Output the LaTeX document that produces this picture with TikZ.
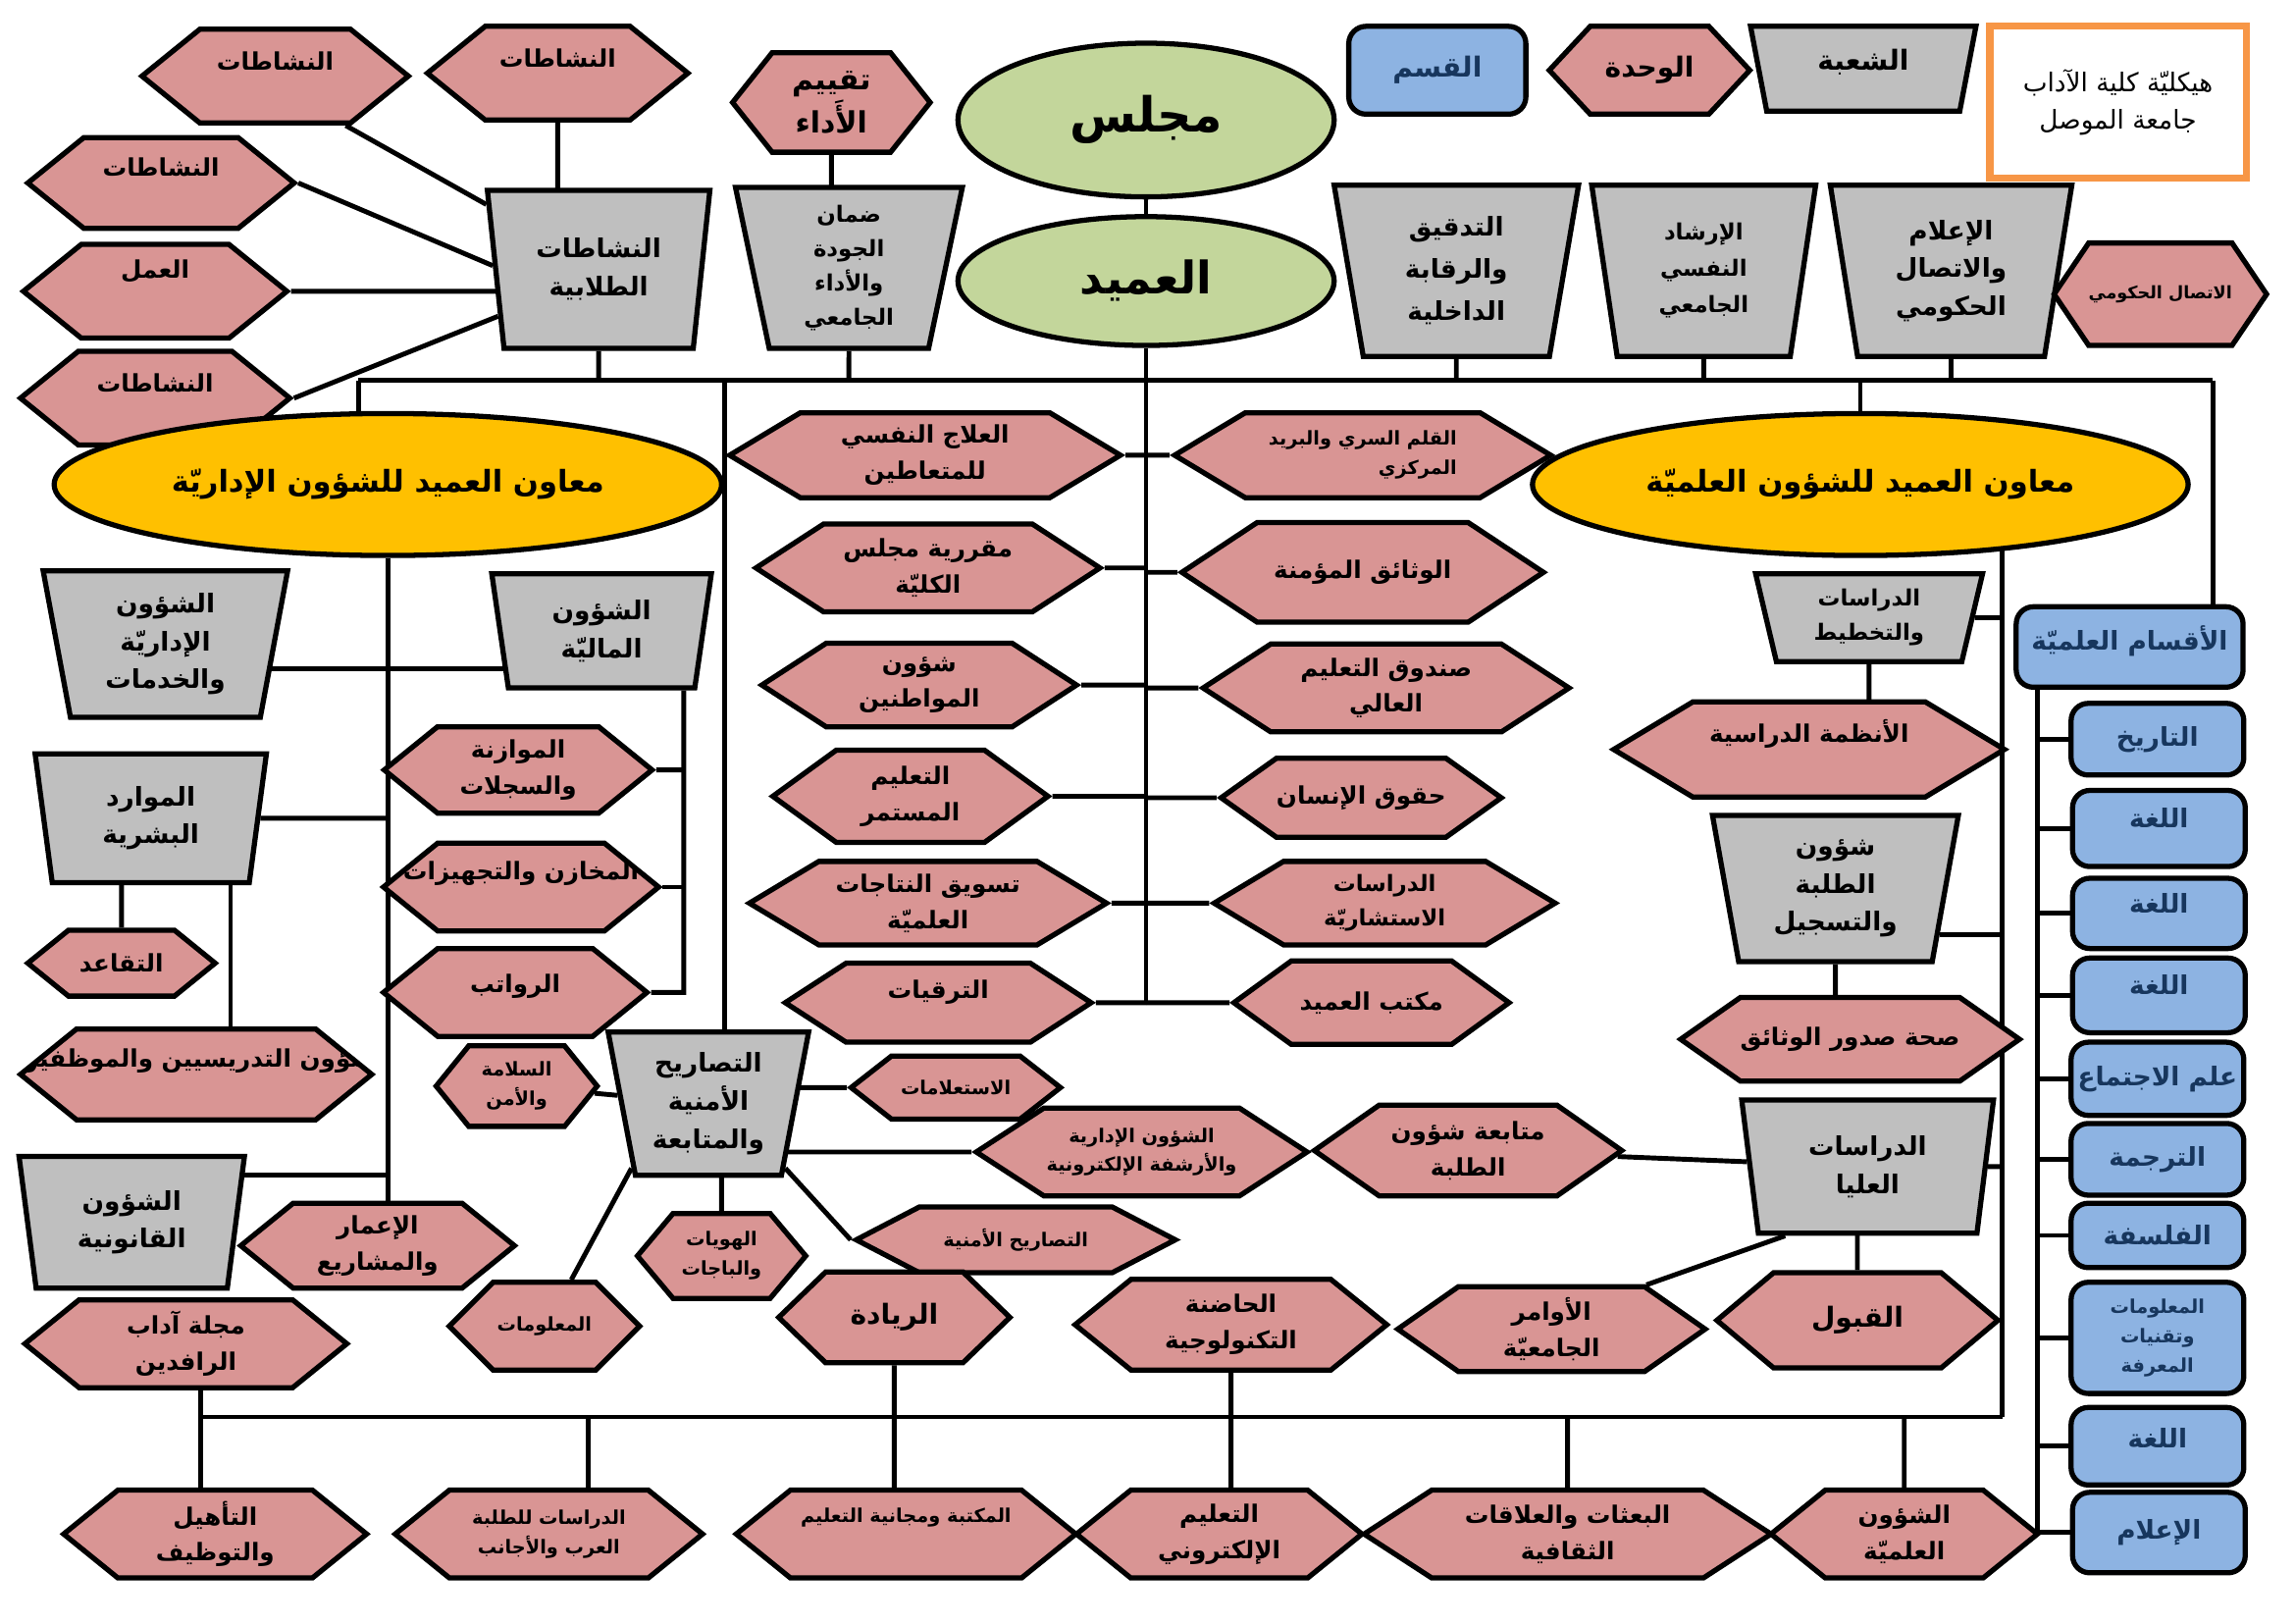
\documentclass[tikz,border=0pt]{standalone}
\usepackage{fontspec}
\usepackage{xcolor}
\usepackage{tikz}
\usetikzlibrary{positioning,calc,shapes.geometric,shapes.symbols,backgrounds}
\newfontfamily\arabicfont[Script=Arabic]{DejaVu Sans}
\TeXXeTstate=1
\newcommand{\rl}[1]{\beginR #1\endR}
\newcommand{\arb}{\arabicfont\bfseries}
\newcommand{\px}{0.014917cm}
\definecolor{hexpink}{HTML}{D99594}
\definecolor{trapgray}{HTML}{BFBFBF}
\definecolor{deptblue}{HTML}{8DB3E2}
\definecolor{deptink}{HTML}{17365D}
\definecolor{headgreen}{HTML}{C3D69B}
\definecolor{vicegold}{HTML}{FFC000}
\definecolor{frameorange}{HTML}{F79646}

\begin{document}
\begin{tikzpicture}[
        x=\px, y=-\px,
        % pink units: six-sided boxes
        hexnode/.style={
            signal, signal to=west and east, signal pointer angle=78,
            draw=black, line width=1.5pt, fill=hexpink,
            inner sep=0pt, align=center,
            font=\arb\fontsize{7}{10.5}\selectfont
        },
        % grey sections: wide top, narrow bottom
        trapnode/.style={
            trapezium, trapezium stretches body, shape border rotate=180,
            trapezium left angle=75, trapezium right angle=75,
            draw=black, line width=1.5pt, fill=trapgray,
            inner sep=0pt, align=center,
            font=\arb\fontsize{7.5}{11}\selectfont
        },
        % blue departments
        deptnode/.style={
            rectangle, rounded corners=5pt,
            draw=black, line width=1.5pt, fill=deptblue, text=deptink,
            inner sep=0pt, align=center,
            font=\arb\fontsize{7.5}{11}\selectfont
        },
        % green council / dean
        headnode/.style={
            ellipse, draw=black, line width=1.5pt, fill=headgreen,
            inner sep=0pt, font=\arb\fontsize{14}{17}\selectfont
        },
        % yellow assistants
        vicenode/.style={
            ellipse, draw=black, line width=1.5pt, fill=vicegold,
            inner sep=0pt, font=\arb\fontsize{8.7}{11}\selectfont
        },
        smalltxt/.style={font=\arb\fontsize{5.5}{8.5}\selectfont},
        upper/.style={text depth=#1},
        % text cut by the box outline
        cuttext/.style={path picture={
            \node[shape=rectangle, draw=none, fill=none, inner sep=0pt,
                  minimum size=0pt, text=black, font=\arb\fontsize{7}{10}\selectfont]
                  at ([yshift=4pt]path picture bounding box.center) {#1};}},
        sz/.style 2 args={minimum width=#1*\px, minimum height=#2*\px},
        link/.style={draw=black, line width=1.4pt}
    ]
    \useasboundingbox (0,0) rectangle (1568,1109);

    % --- LEGEND ---
    \node[deptnode, sz={121}{60}, font=\arb\fontsize{8}{11}\selectfont] (lgQ) at (982,48) {\rl{القسم}};
    \node[hexnode, sz={137}{60}, signal pointer angle=94, font=\arb\fontsize{8}{11}\selectfont] (lgW) at (1127,48) {\rl{الوحدة}};
    \node[trapnode, sz={154}{58}, trapezium left angle=67, trapezium right angle=67, font=\arb\fontsize{8}{11}\selectfont, upper=5pt] (lgS) at (1273,47) {\rl{الشعبة}};
    \node[draw=frameorange, line width=2pt, sz={175}{104}, align=center,
          font=\arabicfont\fontsize{7.5}{11}\selectfont] (ttl) at (1447,70) {\rl{هيكليّة كلية الآداب}\\\rl{جامعة الموصل}};

    % --- COUNCIL AND DEAN ---
    \node[headnode, sz={257}{105}] (council) at (783,82) {\rl{مجلس}};
    \node[headnode, sz={257}{88}, font=\arb\fontsize{13}{16}\selectfont] (dean) at (783,192) {\rl{العميد}};

    % --- TOP ROW ---
    \node[hexnode, sz={182}{64}, upper=9pt] (act1) at (188,52) {\rl{النشاطات}};
    \node[hexnode, sz={178}{64}, upper=9pt] (act2) at (381,50) {\rl{النشاطات}};
    \node[hexnode, sz={182}{62}, upper=9pt] (act3) at (110,125) {\rl{النشاطات}};
    \node[hexnode, sz={180}{64}, upper=13pt] (work) at (106,199) {\rl{العمل}};
    \node[hexnode, sz={184}{64}, upper=9pt] (act4) at (106,272) {\rl{النشاطات}};
    \node[trapnode, sz={152}{108}] (stud) at (409,184) {\rl{النشاطات}\\\rl{الطلابية}};
    \node[hexnode, sz={135}{68}, signal pointer angle=103, font=\arb\fontsize{8.5}{11}\selectfont] (eval) at (568,70) {\rl{تقييم}\\\rl{الأَداء}};
    \node[trapnode, sz={155}{110}, font=\arb\fontsize{6.5}{10}\selectfont] (qual) at (580,183) {\rl{ضمان}\\\rl{الجودة}\\\rl{والأداء}\\\rl{الجامعي}};
    \node[trapnode, sz={167}{117}, font=\arb\fontsize{7.5}{12.3}\selectfont] (audit) at (995,185) {\rl{التدقيق}\\\rl{والرقابة}\\\rl{الداخلية}};
    \node[trapnode, sz={153}{117}, font=\arb\fontsize{6.5}{10.5}\selectfont] (guid) at (1164,185) {\rl{الإرشاد}\\\rl{النفسي}\\\rl{الجامعي}};
    \node[trapnode, sz={165}{117}] (media) at (1333,185) {\rl{الإعلام}\\\rl{والاتصال}\\\rl{الحكومي}};
    \node[hexnode, sz={145}{70}, signal pointer angle=112, font=\arb\fontsize{5}{8}\selectfont] (govc) at (1476,201) {\rl{الاتصال الحكومي}};

    % --- ASSISTANT DEANS ---
    \node[vicenode, sz={456}{97}] (leftE) at (265,331) {\rl{معاون العميد للشؤون الإداريّة}};
    \node[vicenode, sz={448}{97}] (rightE) at (1271,331) {\rl{معاون العميد للشؤون العلميّة}};

    % --- CENTRE COLUMNS ---
    \node[hexnode, sz={267}{58}, signal pointer angle=62] (psy) at (632,311) {\rl{العلاج النفسي}\\\rl{للمتعاطين}};
    \node[hexnode, sz={235}{60}, signal pointer angle=66] (cms) at (634,388) {\rl{مقررية مجلس}\\\rl{الكليّة}};
    \node[hexnode, sz={215}{57}, signal pointer angle=66] (cit) at (628,468) {\rl{شؤون}\\\rl{المواطنين}};
    \node[hexnode, sz={188}{63}, signal pointer angle=72] (cont) at (622,544) {\rl{التعليم}\\\rl{المستمر}};
    \node[hexnode, sz={244}{57}, signal pointer angle=62] (mkt) at (634,617) {\rl{تسويق النتاجات}\\\rl{العلميّة}};
    \node[hexnode, sz={209}{54}, signal pointer angle=66, upper=8pt] (promo) at (641,685) {\rl{الترقيات}};
    \node[hexnode, sz={257}{58}, signal pointer angle=62, smalltxt, align=right] (qalam) at (931,311) {\rl{القلم السري والبريد}\\\rl{المركزي}};
    \node[hexnode, sz={247}{68}, signal pointer angle=67] (docs) at (931,391) {\rl{الوثائق المؤمنة}};
    \node[hexnode, sz={250}{60}, signal pointer angle=66] (fund) at (947,470) {\rl{صندوق التعليم}\\\rl{العالي}};
    \node[hexnode, sz={166}{54}, signal pointer angle=71] (hum) at (930,545) {\rl{حقوق الإنسان}};
    \node[hexnode, sz={233}{57}, signal pointer angle=62, font=\arb\fontsize{6.5}{10}\selectfont] (cons) at (946,617) {\rl{الدراسات}\\\rl{الاستشاريّة}};
    \node[hexnode, sz={188}{57}, signal pointer angle=72] (office) at (937,685) {\rl{مكتب العميد}};

    % --- ADMINISTRATIVE SIDE ---
    \node[trapnode, sz={167}{100}] (admin) at (113,440) {\rl{الشؤون}\\\rl{الإداريّة}\\\rl{والخدمات}};
    \node[trapnode, sz={150}{78}] (fin) at (411,431) {\rl{الشؤون}\\\rl{الماليّة}};
    \node[trapnode, sz={158}{88}] (hr) at (103,559) {\rl{الموارد}\\\rl{البشرية}};
    \node[hexnode, sz={183}{59}] (budget) at (354,526) {\rl{الموازنة}\\\rl{والسجلات}};
    \node[hexnode, sz={188}{60}, cuttext={\beginR المخازن والتجهيزات\endR}] (stores) at (356,606) {};
    \node[hexnode, sz={180}{60}, upper=5pt] (salaries) at (352,678) {\rl{الرواتب}};
    \node[hexnode, sz={128}{45}] (retire) at (83,658) {\rl{التقاعد}};
    \node[hexnode, sz={240}{62}, cuttext={\beginR شؤون التدريسيين والموظفين\endR}] (staff) at (134,734) {};
    \node[trapnode, sz={154}{90}] (legal) at (90,835) {\rl{الشؤون}\\\rl{القانونية}};
    \node[hexnode, sz={187}{58}] (constr) at (258,851) {\rl{الإعمار}\\\rl{والمشاريع}};
    \node[hexnode, sz={220}{60}] (journal) at (127,918) {\rl{مجلة آداب}\\\rl{الرافدين}};
    \node[hexnode, sz={110}{55}, signal pointer angle=102, smalltxt] (safety) at (353,742) {\rl{السلامة}\\\rl{والأمن}};
    \node[trapnode, sz={137}{98}] (sec) at (484,754) {\rl{التصاريح}\\\rl{الأمنية}\\\rl{والمتابعة}};
    \node[hexnode, sz={143}{43}, signal pointer angle=76, smalltxt] (inq) at (653,743) {\rl{الاستعلامات}};
    \node[hexnode, sz={226}{60}, signal pointer angle=66, smalltxt] (earch) at (780,787) {\rl{الشؤون الإدارية}\\\rl{والأرشفة الإلكترونية}};
    \node[hexnode, sz={218}{45}, signal pointer angle=55, smalltxt] (secp) at (694,847) {\rl{التصاريح الأمنية}};
    \node[hexnode, sz={115}{58}, signal pointer angle=100, smalltxt] (ids) at (493,858) {\rl{الهويات}\\\rl{والباجات}};
    \node[hexnode, sz={130}{60}, signal pointer angle=90, smalltxt] (info) at (372,906) {\rl{المعلومات}};
    \node[hexnode, sz={158}{62}, signal pointer angle=88, font=\arb\fontsize{8}{11}\selectfont] (riyada) at (611,900) {\rl{الريادة}};
    \node[hexnode, sz={213}{62}] (incub) at (841,905) {\rl{الحاضنة}\\\rl{التكنولوجية}};

    % --- SCIENTIFIC SIDE ---
    \node[hexnode, sz={210}{62}, signal pointer angle=70] (follow) at (1003,786) {\rl{متابعة شؤون}\\\rl{الطلبة}};
    \node[hexnode, sz={210}{58}, signal pointer angle=70] (orders) at (1060,908) {\rl{الأوامر}\\\rl{الجامعيّة}};
    \node[hexnode, sz={192}{65}, signal pointer angle=80, font=\arb\fontsize{8}{11}\selectfont] (accept) at (1269,902) {\rl{القبول}};
    \node[trapnode, sz={172}{91}] (grad) at (1276,797) {\rl{الدراسات}\\\rl{العليا}};
    \node[trapnode, sz={155}{60}, trapezium left angle=70, trapezium right angle=70, font=\arb\fontsize{6.5}{10}\selectfont] (plan) at (1277,422) {\rl{الدراسات}\\\rl{والتخطيط}};
    \node[hexnode, sz={267}{65}, signal pointer angle=62, upper=11pt] (sys) at (1236,512) {\rl{الأنظمة الدراسية}};
    \node[trapnode, sz={168}{100}] (reg) at (1254,607) {\rl{شؤون}\\\rl{الطلبة}\\\rl{والتسجيل}};
    \node[hexnode, sz={222}{57}, signal pointer angle=70] (doc) at (1264,710) {\rl{صحة صدور الوثائق}};

    % --- BOTTOM ROW ---
    \node[hexnode, sz={207}{60}] (rehab) at (147,1048) {\rl{التأهيل}\\\rl{والتوظيف}};
    \node[hexnode, sz={210}{60}, smalltxt] (foreign) at (375,1048) {\rl{الدراسات للطلبة}\\\rl{العرب والأجانب}};
    \node[hexnode, sz={232}{60}, smalltxt, upper=11pt] (library) at (619,1048) {\rl{المكتبة ومجانية التعليم}};
    \node[hexnode, sz={195}{60}] (elearn) at (833,1048) {\rl{التعليم}\\\rl{الإلكتروني}};
    \node[hexnode, sz={278}{60}, signal pointer angle=66] (mission) at (1071,1048) {\rl{البعثات والعلاقات}\\\rl{الثقافية}};
    \node[hexnode, sz={182}{60}] (sciaff) at (1301,1048) {\rl{الشؤون}\\\rl{العلميّة}};

    % --- DEPARTMENTS ---
    \node[deptnode, sz={155}{55}, upper=5pt] (depts) at (1455,442) {\rl{الأقسام العلميّة}};
    \node[deptnode, sz={118}{49}] (hist) at (1474,505) {\rl{التاريخ}};
    \node[deptnode, sz={118}{52}, upper=6pt] (lang1) at (1475,566) {\rl{اللغة}};
    \node[deptnode, sz={118}{48}, upper=6pt] (lang2) at (1475,624) {\rl{اللغة}};
    \node[deptnode, sz={118}{51}, upper=6pt] (lang3) at (1475,680) {\rl{اللغة}};
    \node[deptnode, sz={118}{50}] (socio) at (1474,737) {\rl{علم الاجتماع}};
    \node[deptnode, sz={118}{49}] (trans) at (1474,792) {\rl{الترجمة}};
    \node[deptnode, sz={118}{44}] (philo) at (1474,844) {\rl{الفلسفة}};
    \node[deptnode, sz={118}{76}, smalltxt] (infot) at (1474,914) {\rl{المعلومات}\\\rl{وتقنيات}\\\rl{المعرفة}};
    \node[deptnode, sz={118}{53}, upper=5pt] (lang4) at (1474,988) {\rl{اللغة}};
    \node[deptnode, sz={118}{55}] (mass) at (1475,1047) {\rl{الإعلام}};

    % --- CONNECTORS ---
    \begin{scope}[on background layer]
        \coordinate (busL) at (245,260);
        \coordinate (busR) at (1512,260);
        \coordinate (vl) at (495,260);
        \coordinate (cv) at (783,685);
        \coordinate (rv) at (1368,968);
        \coordinate (bbL) at (137,968);
        \coordinate (bv) at (1392,1048);
        \coordinate (lh1) at (265,457);
        \coordinate (lh3) at (265,803);

        % top bus
        \draw[link] (busL) -- (busR);
        \draw[link] (busL) -- (busL |- leftE);
        \draw[link] (busR) -- (busR |- depts);
        \foreach \n in {stud,qual,audit,guid,media,rightE}
            \draw[link] (\n) -- (\n |- busL);
        \draw[link] (council) -- (dean);
        \draw[link] (dean) -- (cv);
        \draw[link] (eval) -- (eval |- qual);
        \draw[link] (govc) -- (govc -| media);

        % student activities
        \draw[link] (act2) -- (act2 |- stud);
        \draw[link] (act1.-35) -- (stud.150);
        \draw[link] (act3.east) -- (stud.178);
        \draw[link] (work) -- (work -| stud);
        \draw[link] (act4.east) -- (stud.205);

        % centre
        \draw[link] (vl) -- (vl |- sec);
        \foreach \n in {psy,cms,cit,cont,mkt,promo,qalam,docs,fund,hum,cons,office}
            \draw[link] (\n) -- (\n -| cv);

        % administrative side
        \draw[link] (leftE) -- (leftE |- constr);
        \draw[link] (admin |- lh1) -- (fin |- lh1);
        \draw[link] (hr) -- (hr -| leftE);
        \draw[link] (legal |- lh3) -- (lh3);
        \draw[link] (retire) -- (retire |- hr);
        \draw[link] (hr.-40) -- (hr.-40 |- staff);
        \draw[link] (fin.-36) -- (fin.-36 |- salaries) -- (salaries);
        \draw[link] (budget) -- (budget -| fin.-36);
        \draw[link] (stores) -- (stores -| fin.-36);

        % security permits
        \draw[link] (safety) -- (sec);
        \draw[link] (inq) -- (inq -| sec);
        \draw[link] (earch) -- (earch -| sec);
        \draw[link] (sec.-40) -- (secp.west);
        \draw[link] (ids) -- (ids |- sec);
        \draw[link] (sec.-140) -- (info.60);
        \draw[link] (follow) -- (grad);

        % scientific side
        \draw[link] (rightE -| rv) -- (rv);
        \draw[link] (plan) -- (plan -| rv);
        \draw[link] (plan) -- (plan |- sys);
        \draw[link] (reg.-24) -- (reg.-24 -| rv);
        \draw[link] (reg) -- (reg |- doc);
        \draw[link] (grad) -- (grad -| rv);
        \draw[link] (orders.25) -- (grad.-140);
        \draw[link] (accept) -- (accept |- grad);

        % bottom bus
        \draw[link] (bbL) -- (rv);
        \draw[link] (bbL |- journal) -- (bbL |- rehab);
        \draw[link] (foreign.50) -- (foreign.50 |- bbL);
        \draw[link] (riyada) -- (riyada |- library);
        \draw[link] (incub) -- (incub |- elearn);
        \draw[link] (mission) -- (mission |- bbL);
        \draw[link] (sciaff) -- (sciaff |- bbL);

        % departments
        \draw[link] (bv |- depts) -- (bv);
        \foreach \n in {hist,lang1,lang2,lang3,socio,trans,philo,infot,lang4,mass}
            \draw[link] (\n) -- (\n -| bv);
    \end{scope}

\end{tikzpicture}
\end{document}
